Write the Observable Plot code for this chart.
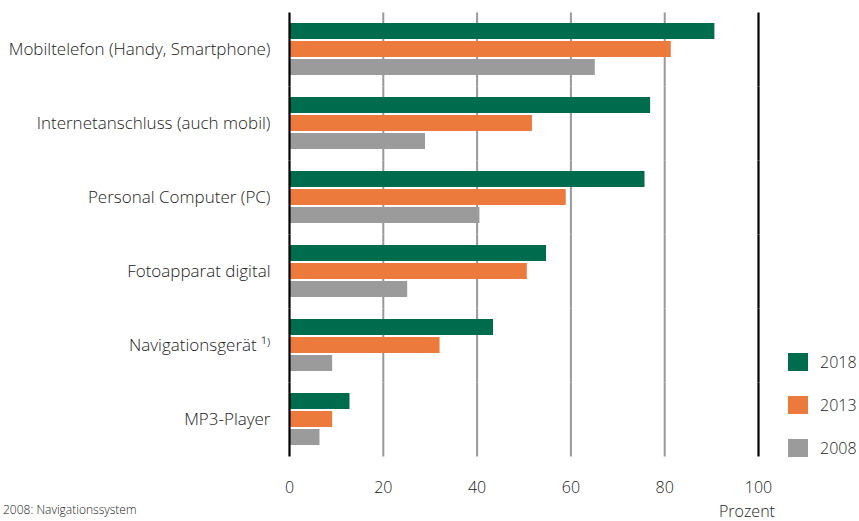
<!DOCTYPE html>
<html><head><meta charset="utf-8">
<script src="https://cdn.jsdelivr.net/npm/d3@7"></script>
<script src="https://cdn.jsdelivr.net/npm/@observablehq/plot@0.6"></script>
<style>
body{margin:0;background:#fff;font-family:"Open Sans",sans-serif;color:#222;}
#wrap{position:relative;width:859px;height:521px;overflow:hidden;}
#wrap svg text{font-family:"Open Sans",sans-serif;font-size:16px;fill:#222;font-weight:300;}
#wrap svg g[aria-label^="fy-axis"] text{font-size:17px;}
.leg{position:absolute;left:788px;display:flex;align-items:center;font-size:16px;font-weight:300;}
.leg span.sw{display:inline-block;width:20px;height:18px;margin-right:12px;}
#unit{position:absolute;left:719px;top:500px;font-size:16px;font-weight:300;}
#foot{position:absolute;left:3px;top:503px;font-size:12px;line-height:14px;font-weight:300;}
</style></head><body><div id="wrap"></div>
<script>
const categories = ["Mobiltelefon (Handy, Smartphone)","Internetanschluss (auch mobil)","Personal Computer (PC)","Fotoapparat digital","Navigationsgerät","MP3-Player"];
const years = ["2018","2013","2008"];
const values2018 = [90.7, 77.0, 75.8, 54.8, 43.5, 12.9];
const values2013 = [81.4, 51.8, 59.0, 50.7, 32.1, 9.2];
const values2008 = [65.2, 29.0, 40.6, 25.2, 9.2, 6.5];
const colors = ["#006c4e", "#ec7a3c", "#9b9b9b"];
const xTicks = [0, 20, 40, 60, 80, 100];
const gridTicks = [20, 40, 60, 80];
const frameTicks = [0, 100];
const footnoteMark = " ¹⁾";
const footnote = "2008: Navigationssystem";
const unitLabel = "Prozent";

const series = [values2018, values2013, values2008];
const rows = categories.flatMap((c, i) => years.map((y, j) => ({category: c, year: y, value: series[j][i]})));

const plot = Plot.plot({
  width: 859, height: 521,
  marginLeft: 289, marginRight: 101, marginTop: 13, marginBottom: 64,
  style: {fontFamily: "Open Sans", fontSize: "16px", background: "transparent", overflow: "visible"},
  x: {domain: [0, 100], ticks: xTicks, tickSize: 0, tickPadding: 34, label: null},
  y: {domain: years, axis: null, paddingInner: 0.1, paddingOuter: 0},
  fy: {domain: categories, paddingInner: 0.256, paddingOuter: 0.116, tickSize: 0, tickPadding: 19, label: null,
       tickFormat: d => d === "Navigationsgerät" ? d + footnoteMark : d},
  color: {domain: years, range: colors},
  facet: {data: rows, y: "category"},
  marks: [
    Plot.ruleX(gridTicks, {stroke: "#999", strokeWidth: 2, insetTop: -9.5, insetBottom: -9.5}),
    Plot.barX(rows, {x: "value", y: "year", fill: "year"}),
    Plot.ruleX(frameTicks, {stroke: "#000", strokeWidth: 2.2, insetTop: -9.5, insetBottom: -9.5})
  ]
});
const wrap = document.getElementById("wrap");
wrap.appendChild(plot);

const legTops = [351, 394, 437];
years.forEach((y, i) => {
  const d = document.createElement("div");
  d.className = "leg";
  d.style.top = legTops[i] + "px";
  d.innerHTML = `<span class="sw" style="background:${colors[i]}"></span><span>${y}</span>`;
  wrap.appendChild(d);
});
const u = document.createElement("div"); u.id = "unit"; u.textContent = unitLabel; wrap.appendChild(u);
const f = document.createElement("div"); f.id = "foot"; f.textContent = footnote; wrap.appendChild(f);
</script></body></html>
